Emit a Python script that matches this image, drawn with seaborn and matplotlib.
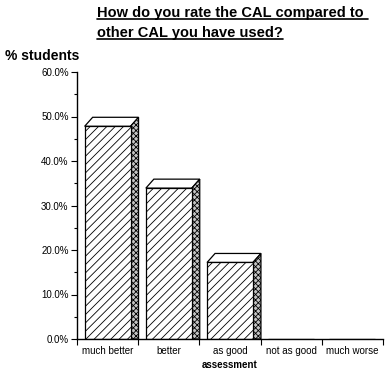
import numpy as np
import seaborn as sns
import matplotlib.pyplot as plt
from matplotlib.patches import Polygon
from matplotlib.lines import Line2D
from matplotlib.ticker import MultipleLocator, FuncFormatter

sns.set_style("white")
plt.rcParams['font.family'] = ['Liberation Sans', 'DejaVu Sans']
plt.rcParams['hatch.linewidth'] = 0.6
plt.rcParams['text.color'] = 'black'
plt.rcParams['axes.labelcolor'] = 'black'
plt.rcParams['xtick.color'] = 'black'
plt.rcParams['ytick.color'] = 'black'

categories = ['much better', 'better', 'as good', 'not as good', 'much worse']
percent = [47.8, 33.9, 17.2, 0.0, 0.0]

fig = plt.figure(figsize=(3.9, 3.75), dpi=100)
ax = fig.add_axes([77 / 390, 1 - 339 / 375, 306 / 390, 267 / 375])

sns.barplot(x=categories, y=percent, order=categories, color='white',
            edgecolor='black', linewidth=0.9, width=0.75, ax=ax, zorder=3)
ax.set_xlim(-0.5, 4.5)
ax.set_ylim(0, 60)

# depth of the 3d bars in data units (8px right, 9px up)
dx = 8 / 306 * 5
dy = 9 / 267 * 60
for p in ax.patches:
    h = p.get_height()
    if h <= 0:
        continue
    p.set_hatch('////')
    x0 = p.get_x()
    x1 = x0 + p.get_width()
    top = Polygon([(x0, h), (x0 + dx, h + dy), (x1 + dx, h + dy), (x1, h)],
                  closed=True, facecolor='white', edgecolor='black', lw=0.9, zorder=2)
    side = Polygon([(x1, 0), (x1, h), (x1 + dx, h + dy), (x1 + dx, 0)],
                   closed=True, facecolor='#c4c4c4', edgecolor='black', lw=0.9,
                   hatch='xxxxxx', zorder=2)
    ax.add_patch(top)
    ax.add_patch(side)

sns.despine(ax=ax)
for s in ['left', 'bottom']:
    ax.spines[s].set_linewidth(1.0)
    ax.spines[s].set_color('black')
    ax.spines[s].set_zorder(5)

ax.yaxis.set_major_locator(MultipleLocator(10))
ax.yaxis.set_minor_locator(MultipleLocator(5))
ax.yaxis.set_major_formatter(FuncFormatter(lambda v, pos: f"{v:.1f}%"))
ax.tick_params(axis='y', which='major', direction='out', length=4, width=0.8,
               labelsize=7, pad=2, left=True)
ax.tick_params(axis='y', which='minor', direction='out', length=2, width=0.8, left=True)

# category boundary ticks on x axis, labels centred
ax.set_xticks(np.arange(-0.5, 5, 1), minor=True)
ax.set_xticks(range(len(categories)))
ax.set_xticklabels(categories)
ax.tick_params(axis='x', which='major', length=0, labelsize=7, pad=5)
ax.tick_params(axis='x', which='minor', direction='out', length=4, width=0.8, bottom=True)
ax.set_xlabel('assessment', fontsize=7, fontweight='bold', labelpad=3)
ax.set_ylabel('')

fig.text(5 / 390, 1 - 60 / 375, '% students', fontsize=10, fontweight='bold',
         ha='left', va='baseline')

t1 = fig.text(97 / 390, 1 - 17 / 375, 'How do you rate the CAL compared to ',
              fontsize=10.5, fontweight='bold', ha='left', va='baseline')
t2 = fig.text(97 / 390, 1 - 37 / 375, 'other CAL you have used?',
              fontsize=10.5, fontweight='bold', ha='left', va='baseline')
fig.canvas.draw()
r = fig.canvas.get_renderer()
for t, yl in [(t1, 19), (t2, 39)]:
    bb = t.get_window_extent(r)
    fig.add_artist(Line2D([bb.x0 / 390, bb.x1 / 390], [1 - yl / 375, 1 - yl / 375],
                          transform=fig.transFigure, color='black', lw=1.2))

fig.savefig('out.png', dpi=100)
